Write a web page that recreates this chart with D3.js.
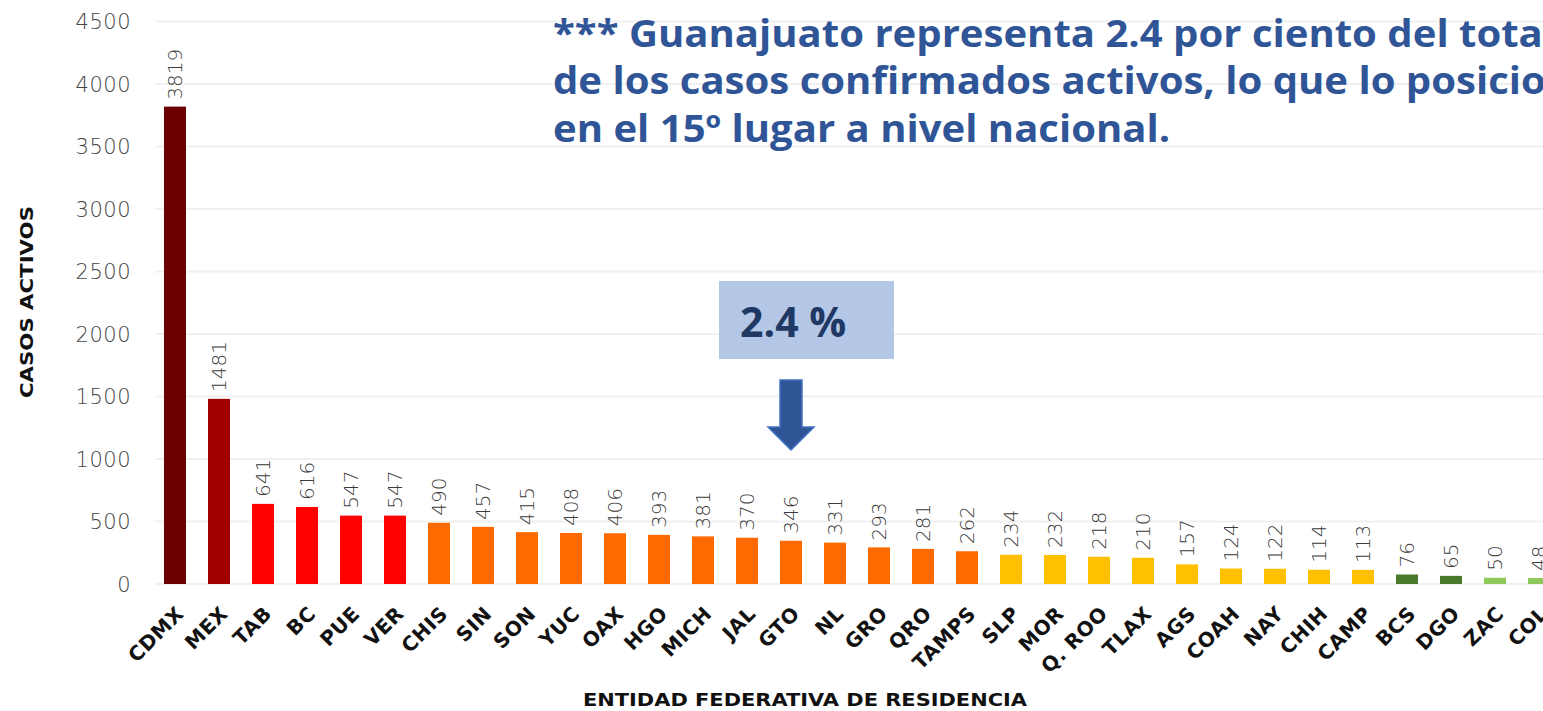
<!DOCTYPE html>
<html lang="es">

<head>
    <meta charset="UTF-8">
    <script src="https://d3js.org/d3.v7.min.js"></script>
    <title>Casos activos por entidad</title>
    <style>
        body { margin: 0; background: #fff; overflow: hidden; }
        .grid line { stroke: #f0f0f0; stroke-width: 2; }
        .y-tick { font-family: "DejaVu Sans", sans-serif; font-weight: 200; font-size: 21px; fill: #444; }
        .value-label { font-family: "DejaVu Sans", sans-serif; font-weight: 200; font-size: 20px; fill: #3a3a3a; }
        .x-label { font-family: "DejaVu Sans", sans-serif; font-weight: 700; font-size: 20px; fill: #111; }
        .axis-title { font-family: "DejaVu Sans", sans-serif; font-weight: 700; font-size: 17px; fill: #111; }
        .note { font-family: "Open Sans", sans-serif; font-weight: 700; font-size: 38px; fill: #2f5597; }
    </style>
</head>

<body>
    <div id="chart"></div>
    <script>
        // Data
        const states = ["CDMX", "MEX", "TAB", "BC", "PUE", "VER", "CHIS", "SIN", "SON", "YUC", "OAX", "HGO",
            "MICH", "JAL", "GTO", "NL", "GRO", "QRO", "TAMPS", "SLP", "MOR", "Q. ROO", "TLAX", "AGS", "COAH",
            "NAY", "CHIH", "CAMP", "BCS", "DGO", "ZAC", "COL"];
        const activos = [3819, 1481, 641, 616, 547, 547, 490, 457, 415, 408, 406, 393, 381, 370, 346, 331, 293,
            281, 262, 234, 232, 218, 210, 157, 124, 122, 114, 113, 76, 65, 50, 48];
        const yTicks = [0, 500, 1000, 1500, 2000, 2500, 3000, 3500, 4000, 4500];
        const colorBreaks = [60, 100, 250, 500, 1000, 2000];
        const colorSteps = ["#8cc95a", "#4b7a2c", "#ffc000", "#ff6a00", "#ff0000", "#a00000", "#6b0000"];
        const noteLines = [
            "*** Guanajuato representa 2.4 por ciento del total",
            "de los casos confirmados activos, lo que lo posiciona",
            "en el 15º lugar a nivel nacional."
        ];
        const highlight = "GTO";
        const highlightText = "2.4 %";

        const data = states.map((s, i) => ({ state: s, value: activos[i] }));

        // Dimensions
        const width = 1543;
        const height = 711;

        const svg = d3.select("#chart")
            .append("svg")
            .attr("width", width)
            .attr("height", height);

        svg.append("rect")
            .attr("width", width)
            .attr("height", height)
            .attr("fill", "#fff");

        // Scales
        const x = d3.scaleBand()
            .domain(states)
            .range([153, 153 + states.length * 44])
            .paddingInner(0.5)
            .paddingOuter(0.25);

        const y = d3.scaleLinear()
            .domain([0, 4500])
            .range([584, 21.5]);

        const color = d3.scaleThreshold()
            .domain(colorBreaks)
            .range(colorSteps);

        // Gridlines
        svg.append("g")
            .attr("class", "grid")
            .selectAll("line")
            .data(yTicks)
            .join("line")
            .attr("x1", 155)
            .attr("x2", width)
            .attr("y1", d => y(d))
            .attr("y2", d => y(d));

        // Y axis labels
        svg.append("g")
            .selectAll("text")
            .data(yTicks)
            .join("text")
            .attr("class", "y-tick")
            .attr("x", 131)
            .attr("y", d => y(d))
            .attr("dy", "0.36em")
            .attr("text-anchor", "end")
            .attr("letter-spacing", 0.5)
            .text(d => d);

        svg.append("text")
            .attr("class", "axis-title")
            .attr("transform", `translate(33,302) rotate(-90)`)
            .attr("text-anchor", "middle")
            .attr("font-size", "19px")
            .attr("textLength", 192)
            .attr("lengthAdjust", "spacingAndGlyphs")
            .text("CASOS ACTIVOS");

        // Bars
        svg.append("g")
            .selectAll("rect")
            .data(data)
            .join("rect")
            .attr("x", d => x(d.state))
            .attr("y", d => y(d.value))
            .attr("width", x.bandwidth())
            .attr("height", d => y(0) - y(d.value))
            .attr("fill", d => color(d.value));

        // Value labels
        svg.append("g")
            .selectAll("text")
            .data(data)
            .join("text")
            .attr("class", "value-label")
            .attr("transform", d => `translate(${x(d.state) + x.bandwidth() / 2},${y(d.value) - 7}) rotate(-90)`)
            .attr("dy", "0.36em")
            .text(d => d.value);

        // X labels
        svg.append("g")
            .selectAll("text")
            .data(states)
            .join("text")
            .attr("class", "x-label")
            .attr("transform", d => `translate(${x(d) + x.bandwidth() / 2 + 5},${610}) rotate(-45)`)
            .attr("text-anchor", "end")
            .attr("dy", "0.35em")
            .attr("letter-spacing", 0.5)
            .text(d => d);

        svg.append("text")
            .attr("class", "axis-title")
            .attr("x", 805)
            .attr("y", 706)
            .attr("text-anchor", "middle")
            .attr("textLength", 444)
            .attr("lengthAdjust", "spacingAndGlyphs")
            .text("ENTIDAD FEDERATIVA DE  RESIDENCIA");

        // Note text, squeezed to the reference width
        const note = svg.append("g");
        const probe = note.append("text").attr("class", "note").text(noteLines[0].slice(0, -1));
        const sx = 990 / probe.node().getComputedTextLength();
        probe.remove();
        note.attr("transform", `translate(553,0) scale(${sx},1)`);
        note.selectAll("text")
            .data(noteLines)
            .join("text")
            .attr("class", "note")
            .attr("x", 0)
            .attr("y", (d, i) => 47 + i * 47.5)
            .text(d => d);

        // Highlight box and arrow over the GTO bar
        const cx = x(highlight) + x.bandwidth() / 2;
        svg.append("rect")
            .attr("x", cx - 72)
            .attr("y", 281)
            .attr("width", 175)
            .attr("height", 78)
            .attr("fill", "#b4c7e7");

        svg.append("text")
            .attr("x", cx - 51)
            .attr("y", 337)
            .attr("font-family", "'Open Sans', sans-serif")
            .attr("font-weight", 700)
            .attr("font-size", "41px")
            .attr("fill", "#1f3864")
            .text(highlightText);

        const arrow = d3.path();
        arrow.moveTo(cx - 11, 380);
        arrow.lineTo(cx + 11, 380);
        arrow.lineTo(cx + 11, 427);
        arrow.lineTo(cx + 23, 427);
        arrow.lineTo(cx, 450);
        arrow.lineTo(cx - 23, 427);
        arrow.lineTo(cx - 11, 427);
        arrow.closePath();

        svg.append("path")
            .attr("d", arrow.toString())
            .attr("fill", "#2f5597")
            .attr("stroke", "#4472c4")
            .attr("stroke-width", 1.5);
    </script>
</body>

</html>
